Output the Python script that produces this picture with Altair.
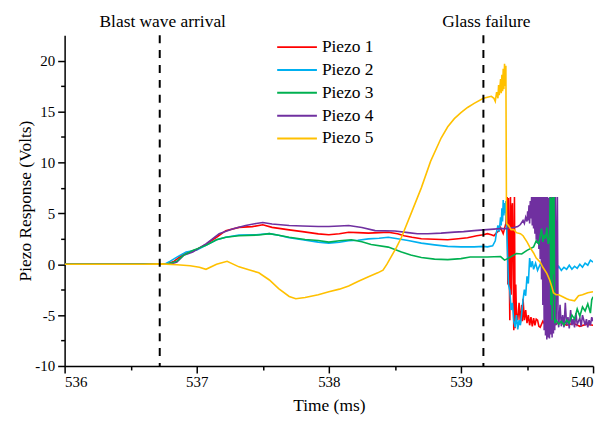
import altair as alt
import pandas as pd

series_names = ["Piezo 1", "Piezo 2", "Piezo 3", "Piezo 4", "Piezo 5"]
series_colors = ["#FF0000", "#00B0F0", "#00B050", "#7030A0", "#FFC000"]

piezo1 = [(536.0, 0), (536.3, 0), (536.6, 0), (536.78, 0.05), (536.83, 0.3), (536.9, 1.0), (537.0, 1.45),
          (537.07, 1.95), (537.15, 2.65), (537.22, 3.3), (537.32, 3.62), (537.42, 3.69), (537.5, 3.88),
          (537.57, 3.62), (537.7, 3.37), (537.8, 3.2), (537.92, 2.98), (538.0, 2.9), (538.08, 3.0),
          (538.15, 3.14), (538.22, 3.1), (538.3, 3.05), (538.38, 3.1), (538.45, 3.14), (538.52, 3.0),
          (538.57, 2.8), (538.63, 2.65), (538.7, 2.5), (538.8, 2.45), (538.9, 2.4), (538.98, 2.5),
          (539.05, 2.6), (539.12, 2.8), (539.17, 2.9), (539.2, 3.0), (539.23, 2.9), (539.25, 2.8),
          (539.27, 3.1), (539.29, 3.3), (539.3, 3.6), (539.32, 3.0), (539.34, 4.0), (539.35, 6.6),
          (539.355, -2.0), (539.36, 6.5), (539.365, 0.5), (539.37, -5.5), (539.375, 6.6), (539.38, -3.0),
          (539.385, 5.5), (539.39, 6.0), (539.395, -1.0), (539.40, -6.5), (539.405, 6.6), (539.41, -6.3),
          (539.415, -2.0), (539.42, -4.8), (539.43, -5.5), (539.44, -3.8), (539.45, -5.8), (539.46, -4.0),
          (539.465, -5.6), (539.47, -3.4), (539.48, -5.5), (539.49, -4.5), (539.5, -5.8), (539.51, -5.0),
          (539.52, -6.0), (539.53, -5.2), (539.54, -6.1), (539.55, -5.3), (539.56, -6.0), (539.57, -5.4),
          (539.58, -5.5), (539.59, -6.1), (539.6, -6.2), (539.62, -5.6), (539.64, -6.0), (539.66, -5.5),
          (539.68, -5.8), (539.7, -6.0), (539.75, -5.7), (539.8, -6.0), (539.85, -5.8), (539.9, -6.1),
          (539.95, -5.9), (540.0, -6.0)]

piezo2 = [(536.0, 0), (536.3, 0), (536.6, 0), (536.76, 0.02), (536.8, 0.3), (536.85, 0.7), (536.92, 1.2),
          (537.0, 1.4), (537.07, 1.85), (537.15, 2.4), (537.22, 2.65), (537.32, 2.87), (537.45, 2.9),
          (537.55, 3.0), (537.62, 2.85), (537.7, 2.6), (537.8, 2.4), (537.92, 2.17), (538.0, 2.07),
          (538.08, 2.15), (538.15, 2.3), (538.22, 2.35), (538.3, 2.49), (538.38, 2.55), (538.45, 2.65),
          (538.52, 2.5), (538.6, 2.33), (538.7, 2.07), (538.8, 1.9), (538.9, 1.75), (539.0, 1.7),
          (539.1, 1.7), (539.17, 1.75), (539.2, 1.7), (539.24, 1.8), (539.26, 2.3), (539.27, 3.2),
          (539.28, 3.8), (539.29, 3.2), (539.3, 4.6), (539.305, 3.8), (539.31, 5.5), (539.315, 4.2),
          (539.32, 6.3), (539.325, 4.8), (539.33, 6.0), (539.335, 5.0), (539.34, 6.2), (539.35, 2.0),
          (539.36, -2.0), (539.37, -2.6), (539.38, -4.5), (539.39, -3.8), (539.40, -5.6), (539.41, -6.2),
          (539.42, -5.0), (539.43, -6.4), (539.44, -5.5), (539.45, -6.0), (539.46, -4.8), (539.47, -3.5),
          (539.48, -2.5), (539.49, -3.1), (539.5, -1.2), (539.51, -1.9), (539.52, 0.6), (539.53, -0.3),
          (539.54, 0.3), (539.55, -0.5), (539.565, 0.1), (539.58, -0.6), (539.6, 0.0), (539.62, -0.4),
          (539.64, -0.9), (539.66, -0.5), (539.68, -0.8), (539.7, -0.3), (539.72, -0.7), (539.74, -0.2),
          (539.76, -0.6), (539.78, -0.3), (539.8, -0.5), (539.82, -0.1), (539.84, -0.5), (539.86, -0.2),
          (539.88, -0.4), (539.9, 0.0), (539.92, -0.3), (539.94, 0.1), (539.96, -0.1), (539.98, 0.4),
          (540.0, 0.2)]

piezo3 = [(536.0, 0), (536.3, 0), (536.6, 0), (536.78, 0.02), (536.85, 0.3), (536.9, 0.87), (536.97, 1.36),
          (537.07, 1.85), (537.15, 2.4), (537.22, 2.65), (537.32, 2.8), (537.47, 2.87), (537.55, 3.0),
          (537.62, 2.85), (537.7, 2.65), (537.82, 2.43), (537.92, 2.33), (538.0, 2.17), (538.08, 2.3),
          (538.17, 2.4), (538.25, 2.2), (538.32, 1.94), (538.45, 1.68), (538.55, 1.2), (538.62, 0.9),
          (538.7, 0.65), (538.8, 0.5), (538.9, 0.45), (539.0, 0.55), (539.07, 0.7), (539.15, 0.7),
          (539.2, 0.7), (539.3, 0.75), (539.33, 0.4), (539.36, 0.6), (539.42, 1.05), (539.46, 1.0),
          (539.5, 1.36), (539.55, 1.7), (539.57, 2.3), (539.59, 2.0), (539.6, 2.8), (539.61, 3.5),
          (539.62, 2.2), (539.63, 2.9), (539.64, 2.5), (539.65, 3.6), (539.66, 2.0), (539.67, 2.6),
          (539.675, 6.6), (539.68, -4.0), (539.685, 6.5), (539.69, -5.5), (539.695, 6.6), (539.70, -1.0),
          (539.705, 6.6), (539.71, -5.8), (539.72, -5.5), (539.74, -5.9), (539.76, -5.6),
          (539.78, -6.0), (539.8, -5.5), (539.82, -5.8), (539.84, -5.0), (539.86, -5.4), (539.88, -4.4),
          (539.9, -5.1), (539.92, -4.2), (539.94, -4.6), (539.96, -3.9), (539.98, -4.8), (539.99, -3.5),
          (540.0, -3.2)]

piezo4 = [(536.0, 0), (536.3, 0), (536.6, 0), (536.8, 0.0), (536.85, 0.2), (536.9, 0.87), (536.97, 1.2),
          (537.07, 2.0), (537.17, 3.0), (537.27, 3.46), (537.37, 3.8), (537.45, 4.0), (537.5, 4.1),
          (537.57, 3.95), (537.7, 3.8), (537.8, 3.75), (537.92, 3.7), (538.0, 3.7), (538.08, 3.75),
          (538.15, 3.8), (538.25, 3.6), (538.35, 3.3), (538.5, 3.27), (538.6, 3.1), (538.67, 3.0),
          (538.75, 3.0), (538.85, 3.05), (538.95, 3.15), (539.02, 3.2), (539.1, 3.3), (539.17, 3.37),
          (539.25, 3.45), (539.3, 3.5), (539.35, 3.5), (539.4, 3.6), (539.43, 3.7), (539.45, 3.9),
          (539.47, 4.3), (539.48, 4.0), (539.49, 4.6), (539.5, 4.2), (539.505, 5.2), (539.51, 4.3),
          (539.515, 5.8), (539.52, 4.0), (539.525, 6.2), (539.53, 4.5), (539.535, 6.6), (539.54, 3.8),
          (539.545, 6.6), (539.55, 3.5), (539.555, 6.6), (539.56, 3.0), (539.565, 6.6), (539.57, 2.4),
          (539.575, 6.6), (539.58, 2.0), (539.585, 6.6), (539.59, 1.5), (539.595, 6.6), (539.60, 0.5),
          (539.605, 6.6), (539.61, -1.5), (539.615, 6.6), (539.62, -4.0), (539.625, 6.6), (539.63, -6.5),
          (539.635, 6.6), (539.64, -7.0), (539.645, 6.6), (539.65, -7.4), (539.655, 6.6), (539.66, -7.2),
          (539.665, 6.5), (539.67, -7.3), (539.675, 6.6), (539.68, -6.9), (539.685, 6.6), (539.69, -7.2),
          (539.695, 6.4), (539.70, -6.8), (539.705, 6.6), (539.71, -6.5), (539.715, 6.6), (539.72, -6.0),
          (539.73, 6.6), (539.735, -5.5), (539.74, -6.2), (539.75, -4.0), (539.76, -6.1), (539.77, -5.0),
          (539.78, -6.2), (539.79, -3.8), (539.8, -6.0), (539.81, -5.2), (539.82, -6.3), (539.83, -4.5),
          (539.84, -6.0), (539.85, -5.4), (539.86, -6.2), (539.87, -4.8), (539.88, -5.9), (539.9, -5.3),
          (539.91, -6.1), (539.92, -5.0), (539.94, -6.0), (539.95, -5.4), (539.96, -6.2), (539.97, -5.5),
          (539.98, -6.0), (539.99, -5.2), (540.0, -5.6)]

piezo5 = [(536.0, 0.0), (536.3, 0.0), (536.6, 0.0), (536.73, 0.03), (536.85, -0.05), (536.95, -0.16),
          (537.02, -0.3), (537.07, -0.5), (537.15, 0.0), (537.23, 0.29), (537.32, -0.26), (537.4, -0.58),
          (537.47, -0.84), (537.55, -1.55), (537.62, -2.4), (537.7, -3.17), (537.75, -3.4), (537.82, -3.27),
          (537.92, -3.0), (538.0, -2.7), (538.08, -2.45), (538.15, -2.14), (538.22, -1.7), (538.3, -1.23),
          (538.37, -0.85), (538.41, -0.58), (538.44, 0.0), (538.47, 0.7), (538.51, 1.6), (538.55, 2.65),
          (538.62, 4.9), (538.7, 7.5), (538.77, 10.1), (538.85, 12.4), (538.9, 13.5), (538.95, 14.3),
          (539.0, 14.9), (539.05, 15.4), (539.1, 15.8), (539.17, 16.3), (539.2, 16.4), (539.23, 16.5),
          (539.25, 16.3), (539.26, 16.0), (539.27, 16.9), (539.28, 16.3), (539.285, 17.6), (539.29, 16.6),
          (539.3, 18.2), (539.305, 16.8), (539.31, 18.6), (539.315, 17.0), (539.32, 19.2), (539.325, 17.2),
          (539.33, 19.7), (539.335, 17.5), (539.34, 19.5), (539.345, 4.0), (539.36, 3.8), (539.38, 3.4),
          (539.4, 3.4), (539.42, 3.1), (539.45, 3.0), (539.47, 2.8), (539.5, 2.2), (539.52, 1.7),
          (539.55, 1.1), (539.57, 0.6), (539.6, 0.2), (539.62, -0.3), (539.65, -0.9), (539.67, -1.5),
          (539.69, -2.3), (539.7, -2.8), (539.72, -3.0), (539.74, -3.0), (539.77, -3.2), (539.8, -3.4),
          (539.82, -3.5), (539.86, -3.6), (539.89, -3.1), (539.92, -3.0), (539.96, -2.8), (540.0, -2.7)]

# drawing order (bottom to top)
draw_groups = [["Piezo 1", "Piezo 2", "Piezo 4"], ["Piezo 3"], ["Piezo 5"]]

event_times = [536.72, 539.17]
event_labels = ["Blast wave arrival", "Glass failure"]

x_ticks = [536, 536.5, 537, 537.5, 538, 538.5, 539, 539.5, 540]
y_ticks = [-10, -7.5, -5, -2.5, 0, 2.5, 5, 7.5, 10, 12.5, 15, 17.5, 20]

rows = []
for name, pts in zip(series_names, [piezo1, piezo2, piezo3, piezo4, piezo5]):
    for i, (t, v) in enumerate(pts):
        rows.append({"series": name, "t": t, "v": v, "i": i})
df = pd.DataFrame(rows)
events = pd.DataFrame({"t": event_times, "label": event_labels})

FONT = "'Liberation Serif', 'Times New Roman', serif"
xscale = alt.Scale(domain=[536, 540], nice=False, zero=False)
yscale = alt.Scale(domain=[-10, 22.5], nice=False, zero=False)

x_axis = alt.Axis(
    title="Time (ms)", values=x_ticks,
    labelExpr="datum.value % 1 === 0 ? '' + datum.value : ''",
    tickSize={"condition": {"test": "datum.value % 1 === 0", "value": 7}, "value": 4},
    labelPadding=2, titlePadding=7)
y_axis = alt.Axis(
    title="Piezo Response (Volts)", values=y_ticks,
    labelExpr="datum.value % 5 === 0 ? '' + datum.value : ''",
    tickSize={"condition": {"test": "datum.value % 5 === 0", "value": 7}, "value": 4},
    labelPadding=3, titlePadding=0)

color_enc = alt.Color(
    "series:N", scale=alt.Scale(domain=series_names, range=series_colors),
    legend=alt.Legend(title=None, orient="none", legendX=223, legendY=1,
                      symbolType="M-2,0L2,0", symbolSize=400, symbolStrokeWidth=2,
                      labelFont=FONT, labelFontSize=17.5, labelColor="black",
                      labelOffset=14, rowPadding=3, padding=0))

base = alt.Chart(df).mark_line(strokeWidth=1.6, clip=True).encode(
    x=alt.X("t:Q", scale=xscale, axis=x_axis),
    y=alt.Y("v:Q", scale=yscale, axis=y_axis),
    color=color_enc,
    order="i:Q",
)
line_layers = [base.transform_filter(alt.FieldOneOfPredicate(field="series", oneOf=g)) for g in draw_groups]

rules = alt.Chart(events).mark_rule(color="black", strokeWidth=2, strokeDash=[8, 7]).encode(
    x=alt.X("t:Q", scale=xscale, axis=x_axis)
)

labels = alt.Chart(events).mark_text(font=FONT, fontSize=17.5, baseline="alphabetic", dx=3,
                                     color="black").encode(
    x=alt.X("t:Q", scale=xscale, axis=x_axis),
    y=alt.value(-8),
    text="label:N",
)

chart = alt.layer(*line_layers, rules, labels).properties(
    width=532, height=333,
    padding={"left": 57, "top": 26, "right": 8, "bottom": 54},
    autosize=alt.AutoSizeParams(type="none"),
).configure_view(stroke=None).configure_axis(
    grid=False, labelFont=FONT, titleFont=FONT, labelFontSize=15, titleFontSize=17.5,
    titleFontWeight="normal", labelColor="black", titleColor="black",
    domainColor="black", tickColor="black", domainWidth=1.5, tickWidth=1.5,
)

chart.save("out.html", embed_options={"renderer": "svg", "actions": False})
